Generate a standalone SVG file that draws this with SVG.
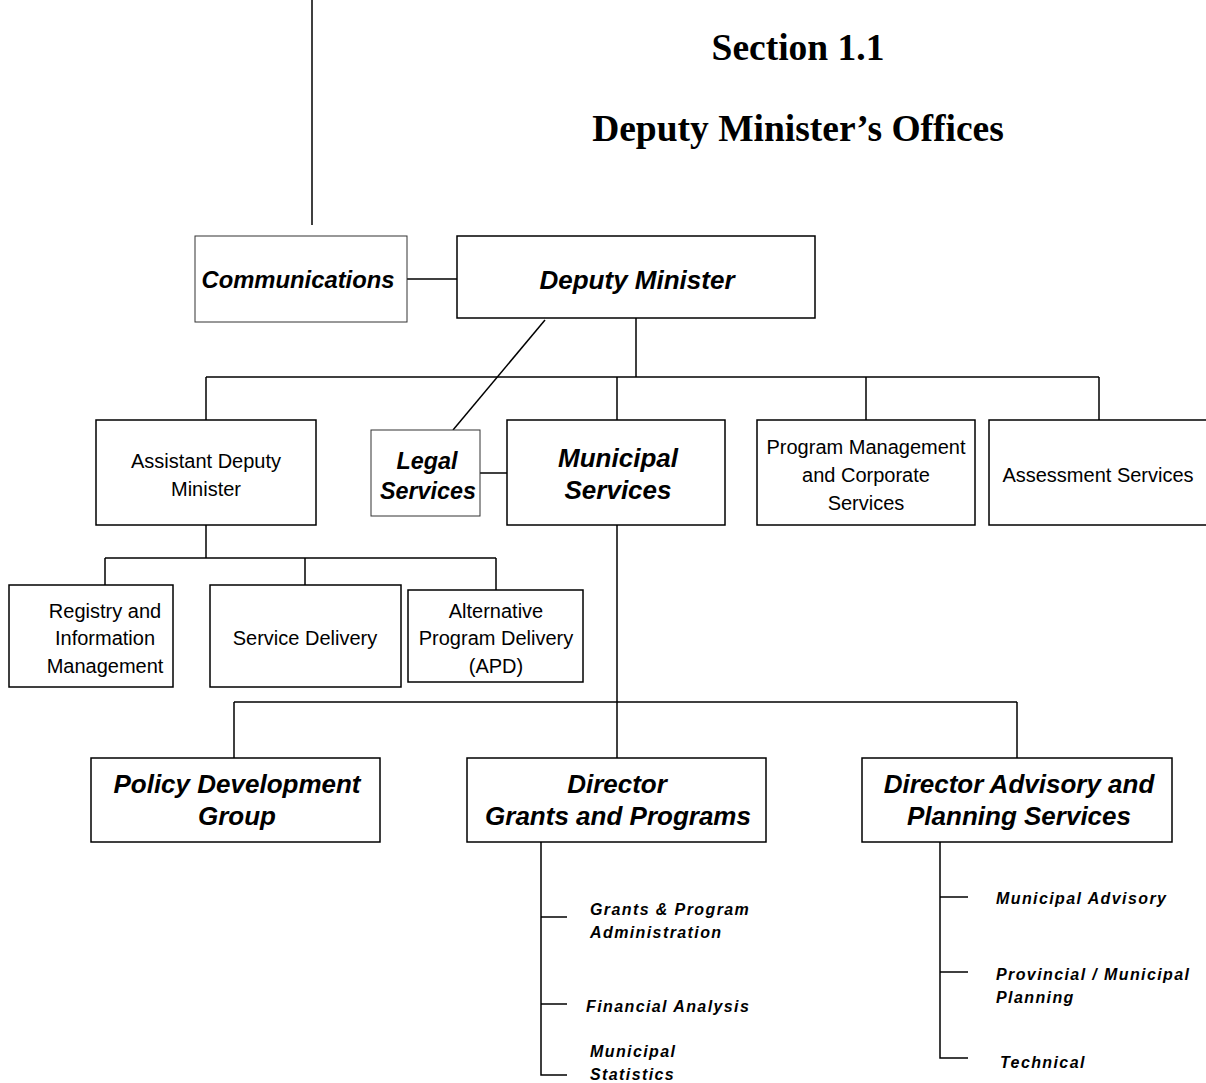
<svg xmlns="http://www.w3.org/2000/svg" width="1206" height="1083" viewBox="0 0 1206 1083">
<style>
.box{fill:#fff;stroke:#000;stroke-width:1.5}
.thin{fill:#fff;stroke:#333;stroke-width:1}
.ln{fill:none;stroke:#000;stroke-width:1.5}
.bi{font-family:"Liberation Sans",Arial,sans-serif;font-weight:bold;font-style:italic;font-size:26px;text-anchor:middle}
.bi2{font-size:23.8px}
.bi3{font-size:23.3px}
.rg{font-family:"Liberation Sans",Arial,sans-serif;font-size:20px;text-anchor:middle}
.sm{font-family:"Liberation Sans",Arial,sans-serif;font-weight:bold;font-style:italic;font-size:16px;letter-spacing:1.4px}
.title{font-family:"Liberation Serif","Times New Roman",serif;font-weight:bold;font-size:37.5px;text-anchor:middle}
</style>
<rect width="1206" height="1083" fill="#fff"/>
<g id="title">
<text class="title" x="798" y="60">Section 1.1</text>
<text class="title" x="798" y="141">Deputy Minister’s Offices</text>
</g>
<g id="connectors">
<line class="ln" x1="312" y1="0" x2="312" y2="225"/>
<line class="ln" x1="407" y1="279" x2="457" y2="279"/>
<line class="ln" x1="545" y1="320" x2="453" y2="430"/>
<polyline class="ln" points="636,318 636,377"/>
<line class="ln" x1="206" y1="377" x2="1099" y2="377"/>
<line class="ln" x1="206" y1="377" x2="206" y2="420"/>
<line class="ln" x1="617" y1="377" x2="617" y2="420"/>
<line class="ln" x1="866" y1="377" x2="866" y2="420"/>
<line class="ln" x1="1099" y1="377" x2="1099" y2="420"/>
<line class="ln" x1="480" y1="473" x2="507" y2="473"/>
<line class="ln" x1="206" y1="525" x2="206" y2="558"/>
<line class="ln" x1="105" y1="558" x2="496" y2="558"/>
<line class="ln" x1="105" y1="558" x2="105" y2="585"/>
<line class="ln" x1="305" y1="558" x2="305" y2="585"/>
<line class="ln" x1="496" y1="558" x2="496" y2="590"/>
<line class="ln" x1="617" y1="525" x2="617" y2="758"/>
<line class="ln" x1="234" y1="702" x2="1017" y2="702"/>
<line class="ln" x1="234" y1="702" x2="234" y2="758"/>
<line class="ln" x1="1017" y1="702" x2="1017" y2="758"/>
<polyline class="ln" points="541,842 541,1075 567,1075"/>
<line class="ln" x1="541" y1="917" x2="567" y2="917"/>
<line class="ln" x1="541" y1="1004" x2="567" y2="1004"/>
<polyline class="ln" points="940,842 940,1058 968,1058"/>
<line class="ln" x1="940" y1="897" x2="968" y2="897"/>
<line class="ln" x1="940" y1="972" x2="968" y2="972"/>
</g>
<g id="communications">
<rect class="thin" x="195" y="236" width="212" height="86"/>
<text class="bi bi2" x="298" y="288">Communications</text>
</g>
<g id="deputy-minister">
<rect class="box" x="457" y="236" width="358" height="82"/>
<text class="bi" x="637" y="289">Deputy Minister</text>
</g>
<g id="adm">
<rect class="box" x="96" y="420" width="220" height="105"/>
<text class="rg" x="206" y="468">Assistant Deputy</text>
<text class="rg" x="206" y="496">Minister</text>
</g>
<g id="legal">
<rect class="thin" x="371" y="430" width="109" height="86"/>
<text class="bi bi3" x="427" y="469">Legal</text>
<text class="bi bi3" x="428" y="499">Services</text>
</g>
<g id="municipal">
<rect class="box" x="507" y="420" width="218" height="105"/>
<text class="bi" x="618" y="467">Municipal</text>
<text class="bi" x="618" y="499">Services</text>
</g>
<g id="pmcs">
<rect class="box" x="757" y="420" width="218" height="105"/>
<text class="rg" x="866" y="454">Program Management</text>
<text class="rg" x="866" y="482">and Corporate</text>
<text class="rg" x="866" y="510">Services</text>
</g>
<g id="assessment">
<rect class="box" x="989" y="420" width="230" height="105"/>
<text class="rg" x="1098" y="482">Assessment Services</text>
</g>
<g id="registry">
<rect class="box" x="9" y="585" width="164" height="102"/>
<text class="rg" x="105" y="618">Registry and</text>
<text class="rg" x="105" y="645">Information</text>
<text class="rg" x="105" y="673">Management</text>
</g>
<g id="service-delivery">
<rect class="box" x="210" y="585" width="191" height="102"/>
<text class="rg" x="305" y="645">Service Delivery</text>
</g>
<g id="apd">
<rect class="box" x="408" y="590" width="175" height="92"/>
<text class="rg" x="496" y="618">Alternative</text>
<text class="rg" x="496" y="645">Program Delivery</text>
<text class="rg" x="496" y="673">(APD)</text>
</g>
<g id="policy">
<rect class="box" x="91" y="758" width="289" height="84"/>
<text class="bi" x="237" y="793">Policy Development</text>
<text class="bi" x="237" y="825">Group</text>
</g>
<g id="grants">
<rect class="box" x="467" y="758" width="299" height="84"/>
<text class="bi" x="617" y="793">Director</text>
<text class="bi" x="618" y="825">Grants and Programs</text>
</g>
<g id="advisory">
<rect class="box" x="862" y="758" width="310" height="84"/>
<text class="bi" x="1019" y="793">Director Advisory and</text>
<text class="bi" x="1019" y="825">Planning Services</text>
</g>
<g id="grants-units">
<text class="sm" x="590" y="915">Grants &amp; Program</text>
<text class="sm" x="590" y="938">Administration</text>
<text class="sm" x="586" y="1012">Financial Analysis</text>
<text class="sm" x="590" y="1057">Municipal</text>
<text class="sm" x="590" y="1080">Statistics</text>
</g>
<g id="advisory-units">
<text class="sm" x="996" y="904">Municipal Advisory</text>
<text class="sm" x="996" y="980">Provincial / Municipal</text>
<text class="sm" x="996" y="1003">Planning</text>
<text class="sm" x="1000" y="1068">Technical</text>
</g>
</svg>
